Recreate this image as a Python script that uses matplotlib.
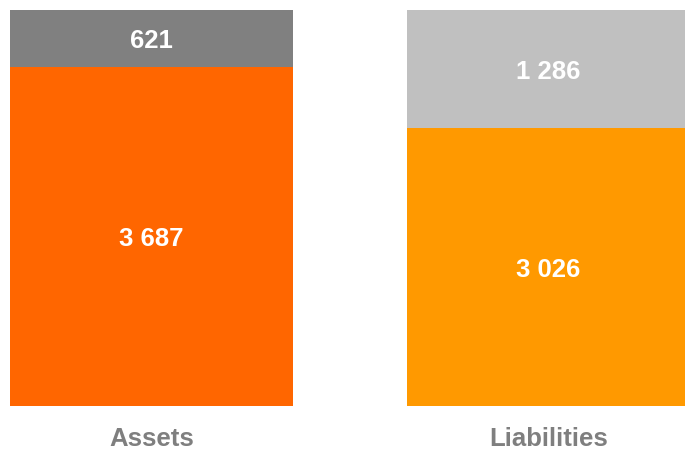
import matplotlib
matplotlib.use("Agg")
import matplotlib.pyplot as plt

categories = ["Assets", "Liabilities"]
bottom_values = [3687, 3026]
top_values = [621, 1286]
bottom_colors = ["#FF6600", "#FF9900"]
top_colors = ["#808080", "#C0C0C0"]

def fmt(v):
    return f"{v:,}".replace(",", " ")

plt.rcParams['font.family'] = ['Liberation Sans', 'DejaVu Sans']
fig = plt.figure(figsize=(6.85, 4.51), dpi=100)
ax = fig.add_axes([10/685, 45/451, 675/685, 396/451])
w = 0.713
x = list(range(len(categories)))
ax.bar(x, bottom_values, width=w, color=bottom_colors)
ax.bar(x, top_values, width=w, bottom=bottom_values, color=top_colors)
for i in x:
    ax.text(i, bottom_values[i] / 2, fmt(bottom_values[i]), ha='center', va='center_baseline',
            color='white', fontsize=18.5, fontweight='bold')
    ax.text(i, bottom_values[i] + top_values[i] / 2, fmt(top_values[i]), ha='center',
            va='center_baseline', color='white', fontsize=18.5, fontweight='bold')
ax.set_xlim(-w / 2, -w / 2 + 675 / 397)
ax.set_ylim(0, max(b + t for b, t in zip(bottom_values, top_values)))
ax.set_xticks(x)
ax.set_xticklabels(categories, fontsize=18.5, fontweight='bold', color='#7F7F7F')
ax.tick_params(axis='x', length=0, pad=15)
ax.set_yticks([])
for s in ax.spines.values():
    s.set_visible(False)
fig.savefig("out.png", dpi=100)
